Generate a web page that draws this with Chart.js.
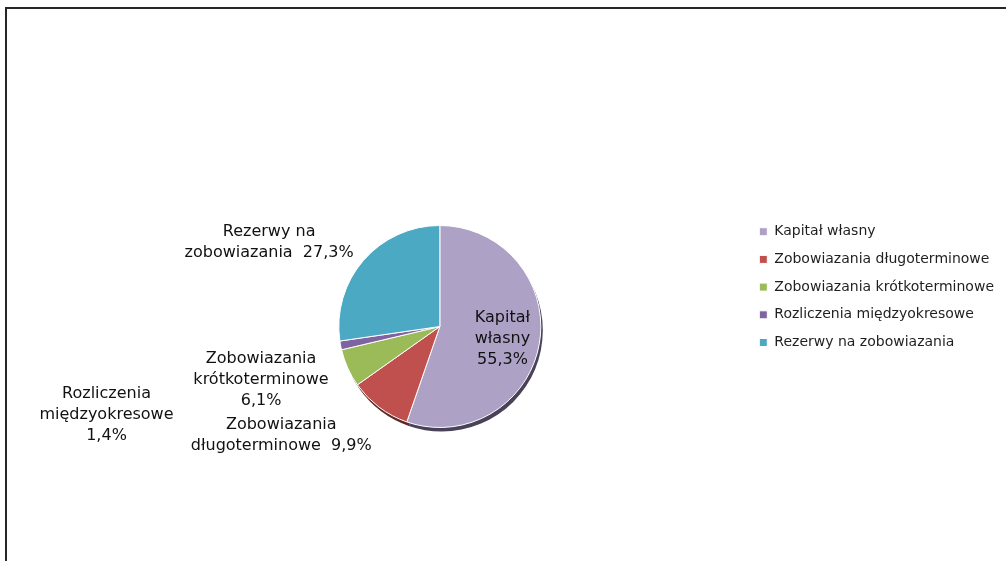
<!DOCTYPE html>
<html>
<head>
<meta charset="utf-8">
<script src="https://cdn.jsdelivr.net/npm/chart.js@4"></script>
<style>
  body { margin: 0; background: #fff; }
  canvas { display: block; }
</style>
</head>
<body>
<canvas id="pasywaChart" width="1006" height="561"></canvas>
<script>
const categories = [
  "Kapitał własny",
  "Zobowiazania długoterminowe",
  "Zobowiazania krótkoterminowe",
  "Rozliczenia międzyokresowe",
  "Rezerwy na zobowiazania",
];
const values = [55.3, 9.9, 6.1, 1.4, 27.3];
// label text per slice, {v} = percent value
const sliceLabels = [
  "Kapitał\nwłasny\n{v}",
  "Zobowiazania\ndługoterminowe  {v}",
  "Zobowiazania\nkrótkoterminowe\n{v}",
  "Rozliczenia\nmiędzyokresowe\n{v}",
  "Rezerwy na\nzobowiazania  {v}",
];

const colors = ["#ADA1C6", "#C0504D", "#9BBB59", "#8064A2", "#4BA9C3"];
const shadeColors = ["#4A4259", "#5E2826", "#4F6A2C", "#453157", "#2A6272"];
// where each label block sits, relative to pie centre, in radii
const labelOffsets = [
  [0.62, 0.12],
  [-1.57, 1.075],
  [-1.77, 0.53],
  [-3.30, 0.87],
  [-1.69, -0.835],
];

function fmtPct(v) {
  return v.toFixed(1).replace(".", ",") + "%";
}

// dark extrusion under the pie (3D look)
const pieShadow = {
  id: "pieShadow",
  beforeDatasetsDraw(chart) {
    const ctx = chart.ctx;
    const meta = chart.getDatasetMeta(0);
    ctx.save();
    meta.data.forEach((arc, i) => {
      const { x, y, startAngle, endAngle, outerRadius } = arc.getProps(
        ["x", "y", "startAngle", "endAngle", "outerRadius"], true);
      ctx.beginPath();
      ctx.moveTo(x + 2, y + 4);
      ctx.arc(x + 2, y + 4, outerRadius, startAngle, endAngle);
      ctx.closePath();
      ctx.fillStyle = shadeColors[i];
      ctx.fill();
    });
    ctx.restore();
  },
};

const sliceText = {
  id: "sliceText",
  afterDatasetsDraw(chart) {
    const ctx = chart.ctx;
    const meta = chart.getDatasetMeta(0);
    ctx.save();
    ctx.font = "16px 'DejaVu Sans'";
    ctx.fillStyle = "#111";
    ctx.textAlign = "center";
    ctx.textBaseline = "middle";
    meta.data.forEach((arc, i) => {
      const r = arc.outerRadius;
      const cx = arc.x + labelOffsets[i][0] * r;
      const cy = arc.y + labelOffsets[i][1] * r;
      const lines = sliceLabels[i].replace("{v}", fmtPct(values[i])).split("\n");
      const lh = 21;
      const y0 = cy - (lines.length - 1) * lh / 2;
      lines.forEach((ln, k) => ctx.fillText(ln, cx, y0 + k * lh));
    });
    ctx.restore();
  },
};

const frame = {
  id: "frame",
  afterDraw(chart) {
    const ctx = chart.ctx;
    ctx.save();
    ctx.strokeStyle = "#262626";
    ctx.lineWidth = 2;
    ctx.beginPath();
    ctx.moveTo(6, chart.height);
    ctx.lineTo(6, 8);
    ctx.lineTo(chart.width, 8);
    ctx.stroke();
    ctx.restore();
  },
};

const ctx = document.getElementById("pasywaChart").getContext("2d");
new Chart(ctx, {
  type: "pie",
  data: {
    labels: categories,
    datasets: [
      {
        data: values,
        backgroundColor: colors,
        borderColor: "#ffffff",
        borderWidth: 1,
        radius: 101,
      },
    ],
  },
  options: {
    responsive: false,
    animation: false,
    layout: {
      padding: { top: 211, bottom: 119, left: 134, right: 2 },
    },
    plugins: {
      tooltip: { enabled: false },
      legend: {
        position: "right",
        align: "start",
        labels: {
          boxWidth: 8,
          boxHeight: 8,
          padding: 13.7,
          color: "#1f1f1f",
          font: { family: "'DejaVu Sans'", size: 14 },
        },
      },
    },
  },
  plugins: [pieShadow, sliceText, frame],
});
</script>
</body>
</html>
